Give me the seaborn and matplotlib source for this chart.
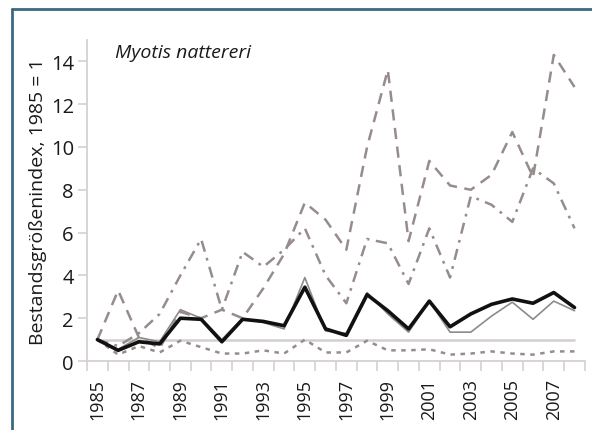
import numpy as np
import pandas as pd
import matplotlib
matplotlib.use("Agg")
import matplotlib.pyplot as plt
from matplotlib.lines import Line2D
import seaborn as sns

# --- data (index, 1985 = 1) ---
years = list(range(1985, 2009))

black_line = [1.0, 0.5, 0.9, 0.8, 2.0, 1.95, 0.9, 1.95, 1.85, 1.65, 3.45, 1.5,
              1.2, 3.1, 2.35, 1.5, 2.8, 1.6, 2.2, 2.65, 2.9, 2.7, 3.2, 2.5]
gray_line = [1.0, 0.55, 1.1, 0.9, 2.4, 2.0, 1.0, 2.0, 1.8, 1.5, 3.9, 1.4,
             1.3, 3.2, 2.2, 1.35, 2.8, 1.35, 1.35, 2.1, 2.75, 1.95, 2.8, 2.35]
dashed_line = [1.0, 3.3, 1.1, 0.6, 2.3, 2.0, 2.4, 2.0, 3.4, 5.0, 7.4, 6.6,
               5.2, 10.0, 13.6, 5.6, 9.35, 8.2, 8.0, 8.7, 10.7, 8.6, 14.3, 12.8]
dashdot_line = [1.0, 0.7, 1.3, 2.2, 4.0, 5.7, 2.4, 5.1, 4.4, 5.2, 6.2, 4.0,
                2.7, 5.7, 5.5, 3.6, 6.2, 3.9, 7.7, 7.3, 6.5, 9.0, 8.3, 6.2]
dotted_line = [1.0, 0.3, 0.7, 0.4, 0.95, 0.65, 0.35, 0.35, 0.5, 0.35, 1.0, 0.4,
               0.4, 0.95, 0.5, 0.5, 0.55, 0.3, 0.35, 0.45, 0.35, 0.3, 0.45, 0.45]
baseline = 1

x_labels = list(range(1985, 2008, 2))
y_ticks = list(range(0, 15, 2))

# --- style ---
sns.set_style("white")
plt.rcParams["font.family"] = ["Open Sans", "DejaVu Sans"]

line_col = "#978c8c"
axis_col = "#d6d1d1"
text_col = "#1a1a1a"

fig = plt.figure(figsize=(5.92, 4.31), dpi=100)
ax = fig.add_axes([0.147, 0.160, 0.841, 0.745])

ax.hlines(baseline, years[0], years[-1], color="#d3cfcf", lw=1.8, zorder=1)

sns.lineplot(x=years, y=dotted_line, ax=ax, color=line_col, lw=1.8,
             linestyle=(0, (1.8, 2.2)), zorder=2)
sns.lineplot(x=years, y=dashed_line, ax=ax, color=line_col, lw=1.8,
             linestyle=(0, (4.5, 3)), zorder=3)
sns.lineplot(x=years, y=dashdot_line, ax=ax, color=line_col, lw=1.8,
             linestyle=(0, (4.5, 2.6, 1.1, 2.6)), zorder=3)
sns.lineplot(x=years, y=gray_line, ax=ax, color="#8e8a8a", lw=1.2, zorder=4)
sns.lineplot(x=years, y=black_line, ax=ax, color="#111111", lw=2.6, zorder=5)

ax.set_xlim(1984.5, 2008.5)
ax.set_ylim(0, 15)

ax.set_xticks(x_labels)
ax.set_xticklabels([str(y) for y in x_labels], rotation=90, fontsize=13,
                   color=text_col)
ax.set_xticks(np.arange(1984.5, 2009, 1), minor=True)
ax.tick_params(axis="x", which="major", length=0, pad=12)
ax.tick_params(axis="x", which="minor", length=7, width=1.2, color=axis_col,
               bottom=True)

ax.set_yticks(y_ticks)
ax.set_yticklabels([str(v) for v in y_ticks], fontsize=14.5, color=text_col)
ax.tick_params(axis="y", length=6.5, width=1.2, color=axis_col, pad=3, left=True)

ax.set_ylabel("Bestandsgrößenindex, 1985 = 1", fontsize=14, labelpad=3,
              color=text_col)
ax.set_xlabel("")

for side in ["top", "right"]:
    ax.spines[side].set_visible(False)
for side in ["left", "bottom"]:
    ax.spines[side].set_color(axis_col)
    ax.spines[side].set_linewidth(1.3)

ax.text(0.056, 0.99, "Myotis nattereri", transform=ax.transAxes,
        fontsize=14, style="italic", ha="left", va="top", color=text_col)

# frame lines of the figure box
frame_col = "#3b6a80"
fig.add_artist(Line2D([12 / 592, 12 / 592], [0, 1 - 10 / 431],
                      transform=fig.transFigure, color=frame_col, lw=2))
fig.add_artist(Line2D([12 / 592, 1], [1 - 10 / 431, 1 - 10 / 431],
                      transform=fig.transFigure, color=frame_col, lw=2))

fig.savefig("out.png", dpi=100)
